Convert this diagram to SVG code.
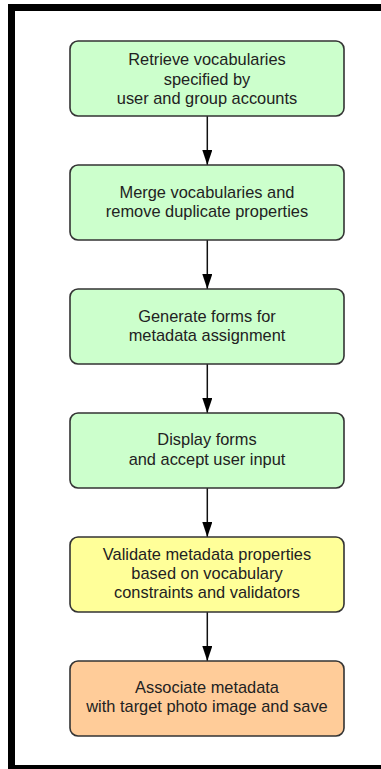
<svg xmlns="http://www.w3.org/2000/svg" width="381" height="769" viewBox="0 0 381 769">
  <style>
    .box { stroke: #333333; stroke-width: 1.6; }
    .green { fill: #ccffcc; }
    .yellow { fill: #ffff99; }
    .orange { fill: #ffcc99; }
    text { font-family: "Liberation Sans", Arial, sans-serif; font-size: 16.4px; fill: #222222; text-anchor: middle; }
    .edge { stroke: #111111; stroke-width: 1.5; fill: none; marker-end: url(#arrow); }
  </style>
  <defs>
    <marker id="arrow" markerWidth="15" markerHeight="10" refX="15" refY="5" orient="auto" markerUnits="userSpaceOnUse" viewBox="0 0 15 10">
      <path d="M0,0 L15,5 L0,10 Z" fill="#000000"/>
    </marker>
  </defs>

  <rect width="381" height="769" fill="#ffffff"/>
  <!-- outer frame, right and bottom edges run off the page -->
  <rect x="11.5" y="7.5" width="400" height="761" fill="none" stroke="#000000" stroke-width="7"/>

  <g id="connectors">
    <line class="edge" x1="207.3" y1="116" x2="207.3" y2="165"/>
    <line class="edge" x1="207.3" y1="240" x2="207.3" y2="289"/>
    <line class="edge" x1="207.3" y1="364" x2="207.3" y2="413"/>
    <line class="edge" x1="207.3" y1="488" x2="207.3" y2="537"/>
    <line class="edge" x1="207.3" y1="612" x2="207.3" y2="661"/>
  </g>

  <g id="retrieve">
    <rect class="box green" x="70" y="41" width="274" height="75" rx="8"/>
    <text x="207" y="64.5">Retrieve vocabularies</text>
    <text x="207" y="84.5">specified by</text>
    <text x="207" y="104">user and group accounts</text>
  </g>

  <g id="merge">
    <rect class="box green" x="70" y="165" width="274" height="75" rx="8"/>
    <text x="207" y="197.5">Merge vocabularies and</text>
    <text x="207" y="217">remove duplicate properties</text>
  </g>

  <g id="generate">
    <rect class="box green" x="70" y="289" width="274" height="75" rx="8"/>
    <text x="207" y="321.5">Generate forms for</text>
    <text x="207" y="341">metadata assignment</text>
  </g>

  <g id="display">
    <rect class="box green" x="70" y="413" width="274" height="75" rx="8"/>
    <text x="207" y="445">Display forms</text>
    <text x="207" y="464.5">and accept user input</text>
  </g>

  <g id="validate">
    <rect class="box yellow" x="70" y="537" width="274" height="75" rx="8"/>
    <text x="207" y="559.5">Validate metadata properties</text>
    <text x="207" y="578.5">based on vocabulary</text>
    <text x="207" y="598">constraints and validators</text>
  </g>

  <g id="associate">
    <rect class="box orange" x="70" y="661" width="274" height="75" rx="8"/>
    <text x="207" y="693">Associate metadata</text>
    <text x="207" y="712">with target photo image and save</text>
  </g>
</svg>
